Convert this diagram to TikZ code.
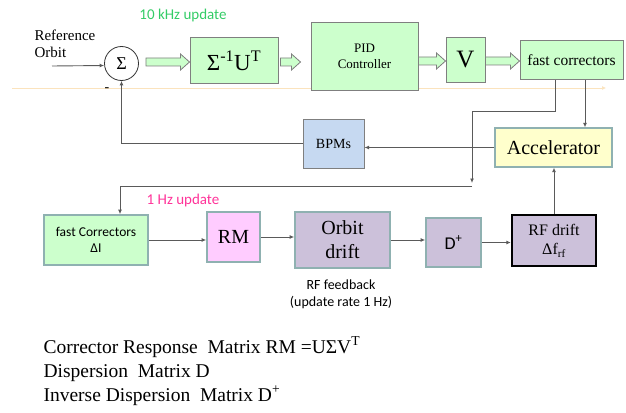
\documentclass[tikz,border=0pt]{standalone}
\usepackage{fontspec}
\setmainfont{Liberation Serif}
\newfontfamily\carl{Carlito}
\usetikzlibrary{arrows.meta,calc}
\definecolor{gfill}{HTML}{CCFFCC}
\definecolor{bfill}{HTML}{C6D9F1}
\definecolor{yfill}{HTML}{FFFFCC}
\definecolor{pfill}{HTML}{FFCCFF}
\definecolor{lfill}{HTML}{CCC1DA}
\definecolor{bord}{HTML}{7F7F7F}
\definecolor{tbord}{HTML}{8FB1B1}
\definecolor{kgreen}{HTML}{33CC66}
\definecolor{hpink}{HTML}{FF3399}
\definecolor{linec}{HTML}{5A5A5A}
\definecolor{faintor}{HTML}{FBE3BD}
\newcommand\fs[1]{\fontsize{#1}{1.2\dimexpr#1pt\relax}\selectfont}
\newcommand\blkarrow[2]{\path[blockarrow] let \p1=#1, \p2=#2 in
  ({\x1},{\y1+4pt}) -- ({\x2-9pt},{\y1+4pt}) -- ({\x2-9pt},{\y1+8pt}) -- ({\x2},{\y1})
  -- ({\x2-9pt},{\y1-8pt}) -- ({\x2-9pt},{\y1-4pt}) -- ({\x1},{\y1-4pt}) -- cycle;}
\tikzset{
  box/.style={draw=bord, line width=1pt, inner sep=0pt, align=center},
  lbox/.style={draw=tbord, line width=1.6pt, inner sep=0pt, align=center},
  conn/.style={draw=linec, line width=0.9pt, -{Latex[length=4.5pt,width=4pt]}},
  blockarrow/.style={draw=bord, fill=gfill, line width=0.8pt},
}
\begin{document}
\begin{tikzpicture}[x=1pt,y=-1pt]
\useasboundingbox (0,0) rectangle (626,412);
% faint line
\coordinate (ol1) at (12,88);
\coordinate (ol2) at (606,88);
\draw[faintor, line width=0.7pt, -{Latex[length=4pt,width=4pt]}] (ol1) -- (ol2);
% top row
\node[text=kgreen, font=\carl\fs{15}] (t10) at (183,16) {10 kHz update};
\node[align=left, anchor=west, font=\fontsize{15}{17}\selectfont] (ref) at (31,44) {Reference\\Orbit};
\node[draw=black!80, line width=0.8pt, circle, minimum size=34pt, inner sep=0pt, font=\fs{18}] (sum) at (121.5,63.5) {Σ};
\node[font=\fs{14}] (minus) at (107,90) {-};
\node[box, fill=gfill, minimum width=88pt, minimum height=45pt, font=\fs{23}] (sut) at (234,60.5) {Σ\textsuperscript{-1}U\textsuperscript{T}};
\node[box, fill=gfill, minimum width=107pt, minimum height=67pt, font=\fs{13}] (pid) at (364.5,56.5) {PID\\Controller};
\node[box, fill=gfill, minimum width=39pt, minimum height=45pt, font=\fs{25}] (V) at (465.5,60) {V};
\node[box, fill=gfill, minimum width=103pt, minimum height=39pt, font=\fs{15.5}] (fc) at (571.5,60) {fast correctors};
\coordinate (refstart) at (52,66);
\draw[conn] (refstart) -- ($(sum.west)+(0,2)$);
\blkarrow{($(sum.east |- sut.west)+(7,1.5)$)}{($(sut.west)+(0,1.5)$)}
\blkarrow{($(sut.east)+(2,1.5)$)}{($(sut.east -| pid.west)+(-10,1.5)$)}
\blkarrow{($(pid.east |- V.west)+(0,1)$)}{($(V.west)+(0,1)$)}
\blkarrow{($(V.east)+(0,1)$)}{($(fc.west)+(0,1)$)}
% middle
\node[box, fill=bfill, minimum width=61pt, minimum height=49pt, font=\fs{14}] (bpm) at (333.5,143.5) {BPMs};
\node[draw=tbord, line width=1.3pt, fill=yfill, minimum width=117pt, minimum height=39pt, inner sep=0pt, font=\fs{20}] (acc) at (553.5,147.5) {Accelerator};
\draw[conn] (bpm.west) -| (sum.south);
\draw[conn] (acc.west) -- (acc.west -| bpm.east);
\coordinate (fcA) at ($(fc.south)+(13.5,0)$);
\coordinate (fcB) at ($(fc.south)+(-16.5,0)$);
\draw[conn] (fcA) -- (fcA |- acc.north);
\coordinate (j1) at (472,183);
\coordinate (j2) at (472,186);
\draw[conn] (fcB) -- ++(0,31) -| (j1);
% bottom row
\node[text=hpink, font=\carl\fs{15}] (t1) at (183,200) {1 Hz update};
\node[lbox, fill=gfill, minimum width=104pt, minimum height=50pt, font=\carl\fs{13.5}] (fcd) at (96,240) {fast Correctors\\ΔI};
\coordinate (fcdIn) at ($(fcd.north)+(24,0)$);
\draw[conn] (j2) -| (fcdIn);
\node[lbox, fill=pfill, minimum width=53pt, minimum height=50pt, font=\fs{20}] (rm) at (233.5,237) {RM};
\node[lbox, fill=lfill, minimum width=95pt, minimum height=56pt, font=\fs{20}] (od) at (342.5,240) {Orbit\\drift};
\node[lbox, fill=lfill, minimum width=55pt, minimum height=49pt, font=\carl\fs{18}] (dp) at (453.5,242.5) {D\textsuperscript{+}};
\node[draw=black, line width=2.4pt, fill=lfill, minimum width=84pt, minimum height=51pt, inner sep=0pt, align=center, font=\fs{16}] (rf) at (554,240.5) {RF drift\\Δf\textsubscript{rf}};
\draw[conn] (fcd.east) -- (fcd.east -| rm.west);
\draw[conn] (rm.east) -- (rm.east -| od.west);
\draw[conn] (od.east) -- (od.east -| dp.west);
\draw[conn] (dp.east) -- (dp.east -| rf.west);
\draw[conn] (rf.north) -- (rf.north |- acc.south);
\node[align=center, font=\carl\fs{14}] (rffb) at (341,294) {RF feedback\\(update rate 1 Hz)};
% legend
\node[anchor=base west, font=\fs{19.5}] (l1) at (40,353) {Corrector Response\ \ Matrix RM =UΣV\textsuperscript{T}};
\node[anchor=base west, font=\fs{19.5}] (l2) at (40,377) {Dispersion\ \ Matrix D};
\node[anchor=base west, font=\fs{19.5}] (l3) at (40,401) {Inverse Dispersion\ \ Matrix D\textsuperscript{+}};
\end{tikzpicture}
\end{document}
